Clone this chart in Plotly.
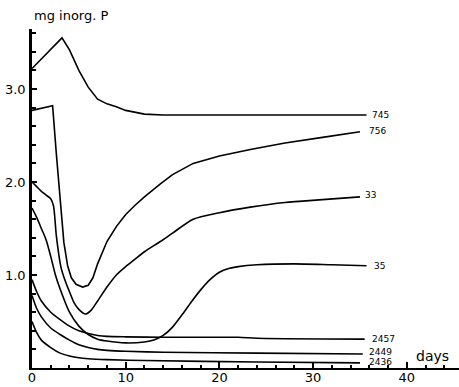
import plotly.graph_objects as go

# ---- data (days, mg inorganic P) ----
d_745 = [0, 3.2, 4, 5, 6, 7, 8, 9, 10, 11, 12, 14, 20, 28, 35.7]
p_745 = [3.22, 3.55, 3.42, 3.2, 3.02, 2.89, 2.84, 2.81, 2.77, 2.75, 2.73, 2.72, 2.72, 2.72, 2.72]

d_756 = [0, 2.2, 2.6, 3.0, 3.4, 3.8, 4.2, 4.7, 5.4, 6.0, 6.5, 7, 8, 9, 10, 11, 12, 13.7, 15, 17.2, 20, 23.3, 27, 31, 35]
p_756 = [2.77, 2.82, 2.3, 1.8, 1.35, 1.1, 0.97, 0.9, 0.87, 0.89, 0.97, 1.12, 1.36, 1.52, 1.65, 1.75, 1.84, 1.98, 2.08, 2.2, 2.28, 2.35, 2.42, 2.48, 2.54]

d_33 = [0, 0.5, 1, 1.5, 2, 2.3, 2.6, 3.1, 3.5, 4, 4.5, 5, 5.7, 6.3, 7, 8, 9, 10, 11, 12, 13.7, 15, 17.2, 20, 23.3, 27, 31, 35]
p_33 = [2.0, 1.95, 1.9, 1.86, 1.82, 1.74, 1.42, 1.08, 0.95, 0.82, 0.7, 0.63, 0.58, 0.62, 0.72, 0.87, 1.0, 1.09, 1.17, 1.25, 1.36, 1.45, 1.6, 1.67, 1.73, 1.78, 1.81, 1.84]

d_35 = [0, 0.5, 1, 1.5, 2, 2.5, 3, 4, 5, 6, 7, 8, 10, 12, 13, 14, 15, 16, 17, 18, 19, 20, 21, 22, 24, 28, 32, 35.7]
p_35 = [1.72, 1.62, 1.5, 1.38, 1.2, 1.0, 0.85, 0.6, 0.45, 0.36, 0.31, 0.29, 0.27, 0.28, 0.30, 0.35, 0.44, 0.57, 0.71, 0.84, 0.95, 1.03, 1.07, 1.09, 1.11, 1.12, 1.11, 1.10]

d_2457 = [0, 0.5, 1, 2, 3, 4, 5, 6, 7, 8, 10, 14, 22, 24, 35.5]
p_2457 = [0.95, 0.82, 0.72, 0.6, 0.52, 0.45, 0.4, 0.37, 0.35, 0.34, 0.335, 0.33, 0.33, 0.32, 0.31]

d_2449 = [0, 0.5, 1, 2, 3, 4, 5, 6, 7, 8, 10, 14, 24, 35.3]
p_2449 = [0.78, 0.64, 0.55, 0.43, 0.36, 0.3, 0.25, 0.22, 0.2, 0.19, 0.18, 0.17, 0.16, 0.15]

d_2436 = [0, 0.5, 1, 2, 3, 4, 5, 6, 8, 12, 24, 35]
p_2436 = [0.5, 0.38, 0.3, 0.22, 0.16, 0.13, 0.11, 0.1, 0.09, 0.08, 0.065, 0.055]

series_names = ["745", "756", "33", "35", "2457", "2449", "2436"]
series_days = [d_745, d_756, d_33, d_35, d_2457, d_2449, d_2436]
series_vals = [p_745, p_756, p_33, p_35, p_2457, p_2449, p_2436]
# curves with a sharp corner are drawn straight, the rest smoothed
series_shape = ["linear", "linear", "spline", "spline", "spline", "spline", "spline"]
# label anchor positions (data coords)
label_x = [36.1, 35.7, 35.3, 36.3, 36.1, 35.8, 35.8]
label_y = [2.72, 2.55, 1.86, 1.10, 0.31, 0.17, 0.065]

x_tick_vals = [0, 10, 20, 30, 40]
y_tick_vals = [0, 1, 2, 3]
y_tick_text = ["", "1.0", "2.0", "3.0"]

fig = go.Figure()
for name, xs, ys, shp in zip(series_names, series_days, series_vals, series_shape):
    line = dict(color="black", width=1.6, shape=shp)
    if shp == "spline":
        line["smoothing"] = 0.7
    fig.add_trace(go.Scatter(x=xs, y=ys, mode="lines", name=name,
                             line=line, showlegend=False, hoverinfo="skip"))

for name, lx, ly in zip(series_names, label_x, label_y):
    fig.add_annotation(x=lx, y=ly, text=name, showarrow=False, xanchor="left",
                       yanchor="middle", font=dict(family="DejaVu Sans", size=9, color="black"))

fig.add_annotation(x=42.7, y=0.13, text="days", showarrow=False,
                   font=dict(family="DejaVu Sans", size=14, color="black"))
fig.add_annotation(xref="paper", yref="paper", x=0, y=1, xanchor="left", yanchor="bottom",
                   yshift=4, text="mg inorg. P", showarrow=False,
                   font=dict(family="DejaVu Sans", size=13, color="black"))

fig.update_layout(
    width=459, height=387,
    margin=dict(l=32, r=0, t=29, b=19, autoexpand=False),
    paper_bgcolor="white", plot_bgcolor="white",
    font=dict(family="DejaVu Sans", size=13, color="black"),
)
fig.update_xaxes(range=[0, 45.57], tickmode="array", tickvals=x_tick_vals,
                 ticks="inside", ticklen=6, tickwidth=1.5, tickcolor="black",
                 showline=True, linecolor="black", linewidth=2, showgrid=False,
                 zeroline=False, automargin=False, ticklabelstandoff=-4,
                 minor=dict(dtick=2, tick0=0, ticks="inside", ticklen=3, tickcolor="black", showgrid=False))
fig.update_yaxes(range=[0, 3.645], tickmode="array", tickvals=y_tick_vals, ticktext=y_tick_text,
                 ticks="inside", ticklen=5, tickwidth=1.5, tickcolor="black",
                 showline=True, linecolor="black", linewidth=2.5, showgrid=False,
                 zeroline=False, automargin=False, ticklabelstandoff=1,
                 minor=dict(dtick=0.2, tick0=0, ticks="inside", ticklen=4, tickcolor="black", showgrid=False))

fig.write_html("out.html", config={"displayModeBar": False},
               post_script="document.body.style.margin='0px';")
